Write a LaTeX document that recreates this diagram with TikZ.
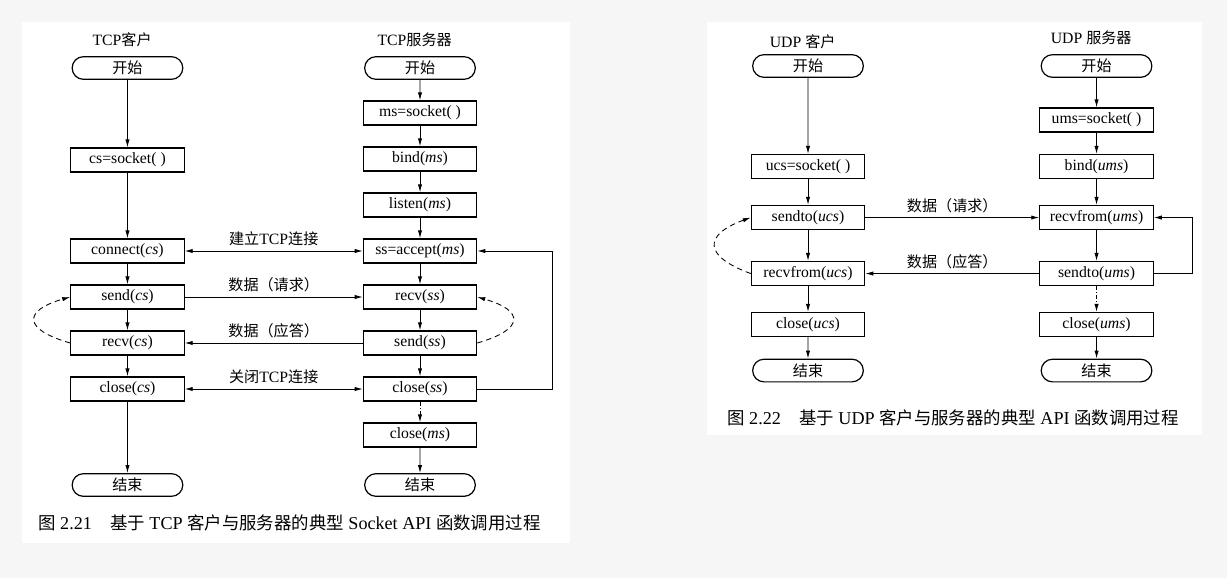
\documentclass[tikz,border=0pt]{standalone}
\usepackage{fontspec}
\setmainfont{Liberation Serif}
\newfontfamily\cjk[Scale=0.96]{Noto Sans CJK SC}
\usepackage{xcolor}
\usetikzlibrary{arrows.meta, positioning, shapes.misc}

\definecolor{pagegray}{HTML}{F6F6F6}

\tikzset{
  func/.style={draw, line width=0.9pt, rectangle, minimum width=85pt, minimum height=18pt, inner sep=1pt},
  term/.style={draw, line width=0.9pt, rounded rectangle, minimum width=85pt, minimum height=17pt, inner sep=1pt},
  colhead/.style={inner sep=1pt, xshift=-4pt},
  flow/.style={->, line width=0.65pt},
  twoway/.style={<->, line width=0.65pt},
  dashloop/.style={->, line width=0.65pt, dash pattern=on 4pt off 3pt},
  closeflow/.style={->, line width=0.65pt, dash pattern=on 3pt off 1.5pt on 0.8pt off 1.5pt},
  figcap/.style={anchor=west, inner sep=0pt, font=\fontsize{13.6}{16}\selectfont}
}

\begin{document}
\begin{tikzpicture}[on grid, node distance=34.5pt, >={Latex[length=6pt,width=3.2pt]},
    font=\fontsize{11.8}{14}\selectfont]
    % page and the two panels
    \fill[pagegray] (0,0) rectangle (920.25pt,-433.5pt);
    \fill[white] (16.5pt,-16.5pt) rectangle (427.5pt,-407.25pt);
    \fill[white] (530.25pt,-16.5pt) rectangle (901.5pt,-326.25pt);
    \useasboundingbox (0,0) rectangle (920.25pt,-433.5pt);

    % TCP server
    \node (tss) [term] at (315pt,-51pt) {\cjk 开始};
    \node (mssock) [func, below=33.75pt of tss] {ms=socket( )};
    \node (msbind) [func, below=of mssock] {bind(\textit{ms})};
    \node (mslisten) [func, below=of msbind] {listen(\textit{ms})};
    \node (ssaccept) [func, below=of mslisten] {ss=accept(\textit{ms})};
    \node (ssrecv) [func, below=of ssaccept] {recv(\textit{ss})};
    \node (sssend) [func, below=of ssrecv] {send(\textit{ss})};
    \node (ssclose) [func, below=of sssend] {close(\textit{ss})};
    \node (msclose) [func, below=of ssclose] {close(\textit{ms})};
    \node (tse) [term, below=37.5pt of msclose] {\cjk 结束};
    \node (tcpserv) [colhead, above=21pt of tss] {TCP{\cjk 服务器}};

    % TCP client
    \node (tcs) [term, left=219.4pt of tss] {\cjk 开始};
    \node (cssock) [func, below=69pt of tcs] {cs=socket( )};
    \node (csconn) [func, left=219.4pt of ssaccept] {connect(\textit{cs})};
    \node (cssend) [func, left=219.4pt of ssrecv] {send(\textit{cs})};
    \node (csrecv) [func, left=219.4pt of sssend] {recv(\textit{cs})};
    \node (csclose) [func, left=219.4pt of ssclose] {close(\textit{cs})};
    \node (tce) [term, left=219.4pt of tse] {\cjk 结束};
    \node (tcpcli) [colhead, above=21pt of tcs] {TCP{\cjk 客户}};

    \draw[flow] (tcs) -- (cssock);
    \draw[flow] (cssock) -- (csconn);
    \draw[flow] (csconn) -- (cssend);
    \draw[flow] (cssend) -- (csrecv);
    \draw[flow] (csrecv) -- (csclose);
    \draw[flow] (csclose) -- (tce);

    \draw[flow] (tss) -- (mssock);
    \draw[flow] (mssock) -- (msbind);
    \draw[flow] (msbind) -- (mslisten);
    \draw[flow] (mslisten) -- (ssaccept);
    \draw[flow] (ssaccept) -- (ssrecv);
    \draw[flow] (ssrecv) -- (sssend);
    \draw[flow] (sssend) -- (ssclose);
    \draw[closeflow] (ssclose) -- (msclose);
    \draw[flow] (msclose) -- (tse);

    \draw[twoway] (csconn) -- (ssaccept) node[midway, above] {{\cjk 建立}TCP{\cjk 连接}};
    \draw[flow] (cssend) -- (ssrecv) node[midway, above] {\cjk 数据（请求）};
    \draw[flow] (sssend) -- (csrecv) node[midway, above] {\cjk 数据（应答）};
    \draw[twoway] (csclose) -- (ssclose) node[midway, above] {{\cjk 关闭}TCP{\cjk 连接}};
    \draw[flow] (ssclose.east) -- ++(56.25pt,0) |- (ssaccept.east);
    \draw[dashloop] (csrecv.west) .. controls +(164:37pt) and +(196:37pt) .. (cssend.west);
    \draw[dashloop] (sssend.east) .. controls +(16:37pt) and +(-16:37pt) .. (ssrecv.east);

    \node (tcpcap) [figcap] at (28.5pt,-392.25pt) {{\cjk 图} 2.21\quad{\cjk 基于} TCP {\cjk 客户与服务器的典型} Socket API {\cjk 函数调用过程}};

    % UDP server
    \node (tus) [term] at (822.4pt,-49.5pt) {\cjk 开始};
    \node (umssock) [func, below=40.5pt of tus] {ums=socket( )};
    \node (umsbind) [func, below=34.9pt of umssock] {bind(\textit{ums})};
    \node (umsrecv) [func, below=38.25pt of umsbind] {recvfrom(\textit{ums})};
    \node (umssend) [func, below=42pt of umsrecv] {sendto(\textit{ums})};
    \node (umsclose) [func, below=38.25pt of umssend] {close(\textit{ums})};
    \node (tue) [term, below=34.5pt of umsclose] {\cjk 结束};
    \node (udpserv) [colhead, above=21pt of tus] {UDP {\cjk 服务器}};

    % UDP client
    \node (tuc) [term, left=216.4pt of tus] {\cjk 开始};
    \node (ucssock) [func, left=216.4pt of umsbind] {ucs=socket( )};
    \node (ucssend) [func, left=216.4pt of umsrecv] {sendto(\textit{ucs})};
    \node (ucsrecv) [func, left=216.4pt of umssend] {recvfrom(\textit{ucs})};
    \node (ucsclose) [func, left=216.4pt of umsclose] {close(\textit{ucs})};
    \node (tuce) [term, left=216.4pt of tue] {\cjk 结束};
    \node (udpcli) [colhead, above=18pt of tuc] {UDP {\cjk 客户}};

    \draw[flow] (tuc) -- (ucssock);
    \draw[flow] (ucssock) -- (ucssend);
    \draw[flow] (ucssend) -- (ucsrecv);
    \draw[flow] (ucsrecv) -- (ucsclose);
    \draw[flow] (ucsclose) -- (tuce);

    \draw[flow] (tus) -- (umssock);
    \draw[flow] (umssock) -- (umsbind);
    \draw[flow] (umsbind) -- (umsrecv);
    \draw[flow] (umsrecv) -- (umssend);
    \draw[closeflow] (umssend) -- (umsclose);
    \draw[flow] (umsclose) -- (tue);

    \draw[flow] (ucssend) -- (umsrecv) node[midway, above] {\cjk 数据（请求）};
    \draw[flow] (umssend) -- (ucsrecv) node[midway, above] {\cjk 数据（应答）};
    \draw[flow] (umssend.east) -- ++(29.25pt,0) |- (umsrecv.east);
    \draw[dashloop] (ucsrecv.west) .. controls +(160:38pt) and +(200:38pt) .. (ucssend.west);

    \node (udpcap) [figcap] at (545.25pt,-313.5pt) {{\cjk 图} 2.22\quad{\cjk 基于} UDP {\cjk 客户与服务器的典型} API {\cjk 函数调用过程}};
\end{tikzpicture}
\end{document}
